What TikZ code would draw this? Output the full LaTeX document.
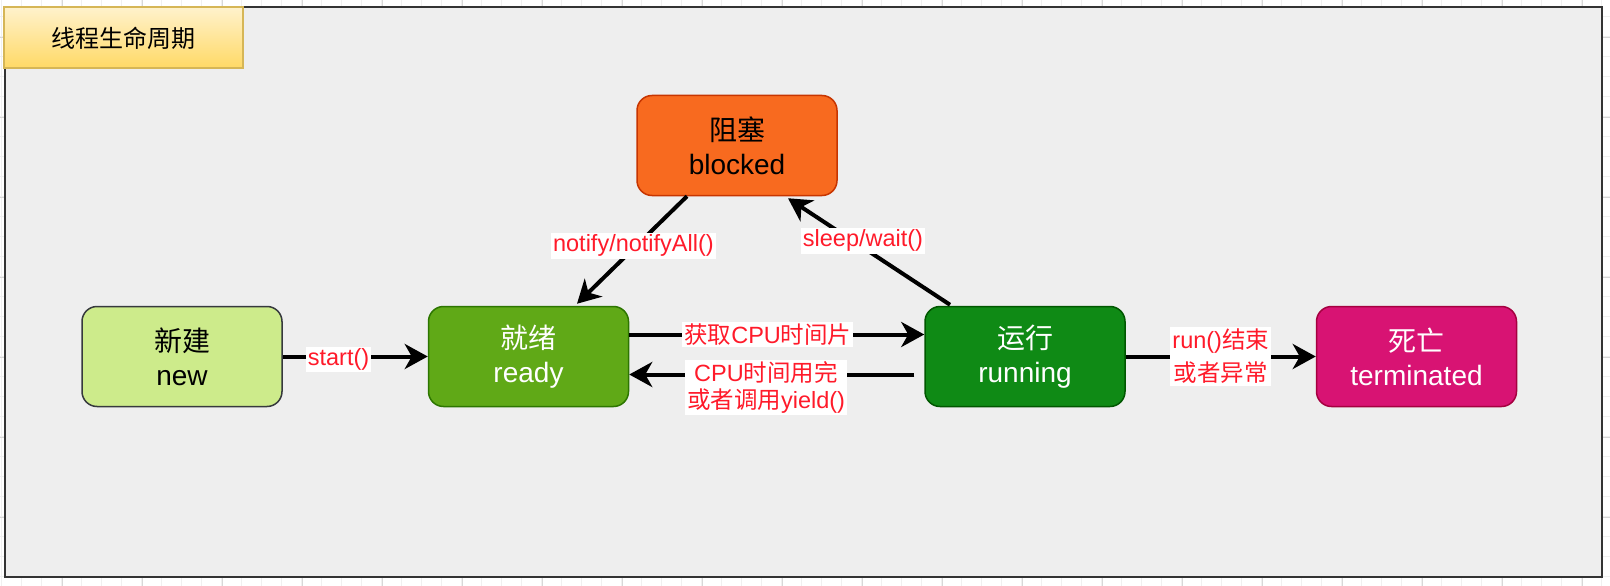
\documentclass[tikz,border=0pt]{standalone}
\usepackage{fontspec}
\setmainfont{Liberation Sans}
\newfontfamily\cjk{Noto Sans CJK SC}
\usetikzlibrary{arrows.meta}
\definecolor{framebg}{HTML}{EEEEEE}
\definecolor{framedraw}{HTML}{333333}
\definecolor{titletop}{HTML}{FFF2CC}
\definecolor{titlebot}{HTML}{FFD966}
\definecolor{titledraw}{HTML}{D6B656}
\definecolor{newfill}{HTML}{CDEB8B}
\definecolor{newdraw}{HTML}{36393D}
\definecolor{readyfill}{HTML}{60A917}
\definecolor{readydraw}{HTML}{2D7600}
\definecolor{runfill}{HTML}{0F8A15}
\definecolor{rundraw}{HTML}{005700}
\definecolor{termfill}{HTML}{D81373}
\definecolor{termdraw}{HTML}{A50040}
\definecolor{blockfill}{HTML}{F86A1F}
\definecolor{blockdraw}{HTML}{C73500}
\definecolor{lblred}{HTML}{FF1A2A}
\definecolor{gridminor}{HTML}{F0F0F0}
\definecolor{gridmajor}{HTML}{D8D8D8}
\begin{document}
\begin{tikzpicture}[x=1pt,y=-1pt,
  state/.style={rounded corners=15pt, minimum width=200pt, minimum height=100pt,
    line width=1.5pt, align=center, inner sep=0pt,
    font=\fontsize{28}{34}\selectfont},
  lbl/.style={fill=white, text=lblred, inner sep=2pt, align=center,
    font=\fontsize{23.5}{27}\selectfont},
  conn/.style={line width=4pt, -{Stealth[length=23pt,width=25pt,inset=7pt]}},
]
\useasboundingbox (0,0) rectangle (1610,586);
% editor grid
\foreach \i in {0,...,80} {\draw[gridminor, line width=1pt] ({1.7+20*\i},0) -- ++(0,586);}
\foreach \i in {0,...,29} {\draw[gridminor, line width=1pt] (0,{16.7+20*\i}) -- ++(1610,0);}
\foreach \i in {0,...,20} {\draw[gridmajor, line width=1pt] ({62.3+80*\i},0) -- ++(0,586);}
\foreach \i in {0,...,7} {\draw[gridmajor, line width=1pt] (0,{37.3+80*\i}) -- ++(1610,0);}
% frame
\draw[framedraw, fill=framebg, line width=2pt] (5,7.5) rectangle (1602,577);
% title
\shade[top color=titletop, bottom color=titlebot] (4,7) rectangle (243,68);
\draw[titledraw, line width=1.5pt] (4,7) rectangle (243,68);
\node[font=\fontsize{24}{28}\selectfont\cjk] (title) at (123.5,38) {线程生命周期};
% states
\node[state, fill=newfill, draw=newdraw, text=black] (new) at (182,356.5) {{\cjk 新建}\\new};
\node[state, fill=readyfill, draw=readydraw, text=white] (ready) at (528.5,356.5) {{\cjk 就绪}\\ready};
\node[state, fill=runfill, draw=rundraw, text=white] (running) at (1025,356.5) {{\cjk 运行}\\running};
\node[state, fill=termfill, draw=termdraw, text=white] (term) at (1416.5,356.5) {{\cjk 死亡}\\terminated};
\node[state, fill=blockfill, draw=blockdraw, text=black] (blocked) at (737,145.5) {{\cjk 阻塞}\\blocked};
% connectors
\draw[conn] (new.east) -- node[lbl, pos=0.385, yshift=-3pt] (l1) {start()} (ready.west);
\draw[conn] ([yshift=22pt]ready.east) -- node[lbl, pos=0.47] (l2) {{\cjk 获取}CPU{\cjk 时间片}} ([yshift=22pt]running.west);
\draw[conn] ([xshift=-10pt,yshift=-18pt]running.west) -- node[lbl, pos=0.52, yshift=-13pt] (l3) {CPU{\cjk 时间用完}\\{\cjk 或者调用}yield()} ([yshift=-18pt]ready.east);
\draw[conn] ([xshift=-50pt]blocked.south) -- node[lbl, pos=0.46, xshift=-3pt] (l4) {notify/notifyAll()} ([xshift=48.5pt,yshift=2pt]ready.north);
\draw[conn] ([xshift=-75pt,yshift=1pt]running.north) -- node[lbl, pos=0.537, yshift=7pt] (l5) {sleep/wait()} ([xshift=51pt,yshift=-2pt]blocked.south);
\draw[conn] (running.east) -- node[lbl, pos=0.5, font=\fontsize{23.5}{33}\selectfont] (l6) {run(){\cjk 结束}\\{\cjk 或者异常}} (term.west);
\end{tikzpicture}
\end{document}
